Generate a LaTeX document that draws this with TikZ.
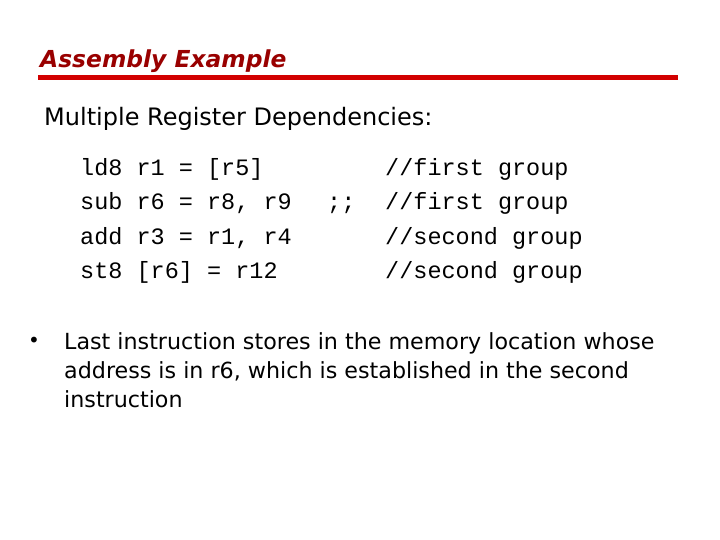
\documentclass[tikz,border=0pt]{standalone}
\usepackage{fontspec}
\setmainfont{DejaVu Sans}
\setmonofont{Liberation Mono}
\newfontfamily\titlefont{DejaVu Sans}
\definecolor{titlered}{RGB}{153,0,0}
\definecolor{rulered}{RGB}{210,0,0}
\begin{document}
\begin{tikzpicture}[x=1pt,y=-1pt,
  code/.style={anchor=base west,inner sep=0pt,font=\fontsize{23.5}{28}\ttfamily},
  body/.style={anchor=base west,inner sep=0pt,font=\fontsize{22.2}{29}\selectfont}]
\useasboundingbox (0,0) rectangle (720,540);
%title
\node[anchor=base west,inner sep=0pt,text=titlered,font=\fontsize{23.4}{28}\titlefont\bfseries\itshape] (title) at (40,68) {Assembly Example};
\draw[rulered,line width=5] (38,78) -- (678,78);
\node[anchor=base west,inner sep=0pt,font=\fontsize{24}{28}\selectfont] (head) at (44,126) {Multiple Register Dependencies:};
%code lines
\foreach \y/\ins/\com [count=\i] in {176/ld8 r1 = [r5]/first group,
  210/sub r6 = r8{,} r9/first group,
  244/add r3 = r1{,} r4/second group,
  278/st8 [r6] = r12/second group}{
  \node[code] (ins\i) at (80,\y) {\ins};
  \node[code] (com\i) at (385,\y) {//\com};
}
\node[code] (semi) at (327,210) {;;};
%bullet
\node[anchor=base west,inner sep=0pt,font=\fontsize{20}{22}\selectfont] (dot) at (28,347) {•};
\node[body] (l1) at (64,349) {Last instruction stores in the memory location whose};
\node[body] (l2) at (64,378) {address is in r6, which is established in the second};
\node[body] (l3) at (64,407) {instruction};
\end{tikzpicture}
\end{document}
